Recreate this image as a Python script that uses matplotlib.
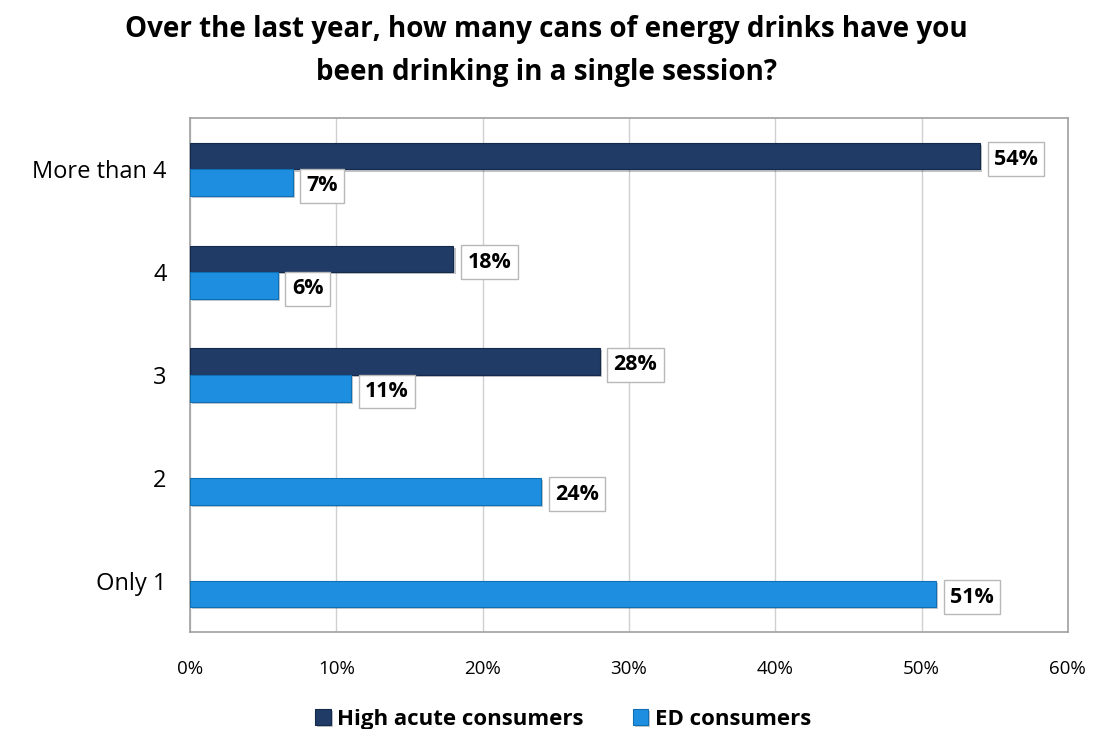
import numpy as np
import matplotlib.pyplot as plt
import matplotlib.patheffects as pe
from matplotlib.ticker import PercentFormatter

categories = ['More than 4', '4', '3', '2', 'Only 1']
high_acute = [54, 18, 28, 0, 0]
ed_consumers = [7, 6, 11, 24, 51]
series_names = ['High acute consumers', 'ED consumers']
title = 'Over the last year, how many cans of energy drinks have you\nbeen drinking in a single session?'

dark = '#1F3B66'
light = '#1E8FE0'

plt.rcParams['font.family'] = ['Open Sans', 'DejaVu Sans']

fig = plt.figure(figsize=(10.93, 7.29), dpi=100)
ax = fig.add_axes([0.174, 0.133, 0.803, 0.705])

y = np.arange(len(categories))
h = 0.26
shadow = [pe.SimplePatchShadow(offset=(1.5, -1.5), alpha=0.25), pe.Normal()]

b1 = ax.barh(y - h / 2, high_acute, height=h, color=dark, edgecolor='#15294a',
             linewidth=[0.8 if v else 0 for v in high_acute],
             label=series_names[0], zorder=3)
b2 = ax.barh(y + h / 2, ed_consumers, height=h, color=light, edgecolor='#0f6fb5',
             linewidth=[0.8 if v else 0 for v in ed_consumers],
             label=series_names[1], zorder=3)
for bar in list(b1) + list(b2):
    if bar.get_width() > 0:
        bar.set_path_effects(shadow)

box = dict(boxstyle='square,pad=0.3', fc='white', ec='#b8b8b8', lw=1)
for bars, vals in ((b1, high_acute), (b2, ed_consumers)):
    for bar, v in zip(bars, vals):
        if v == 0:
            continue
        ax.text(v + 0.95, bar.get_y() + bar.get_height() / 2 + 0.03, f'{v}%',
                va='center', ha='left', fontsize=15.5, fontweight='bold',
                bbox=box, zorder=4)

ax.set_xlim(0, 60)
ax.set_xticks(range(0, 61, 10))
ax.xaxis.set_major_formatter(PercentFormatter(decimals=0))
ax.set_ylim(len(categories) - 0.5, -0.5)
ax.set_yticks(y)
ax.set_yticklabels(categories, fontsize=17)
ax.tick_params(axis='x', labelsize=13.5, length=0, pad=20)
ax.tick_params(axis='y', length=0, pad=17)
ax.grid(axis='x', color='#d0d0d0', lw=1, zorder=0)
for s in ax.spines.values():
    s.set_color('#a0a0a0')
    s.set_linewidth(1.2)

fig.suptitle(title, fontsize=20, fontweight='bold', y=0.98, linespacing=1.65)

ax.legend(loc='upper center', bbox_to_anchor=(0.425, -0.11), ncol=2, frameon=False,
          prop={'weight': 'bold', 'size': 16}, handlelength=0.7, handleheight=0.7,
          handletextpad=0.3, columnspacing=2.2)

fig.savefig('out.png', dpi=100)
